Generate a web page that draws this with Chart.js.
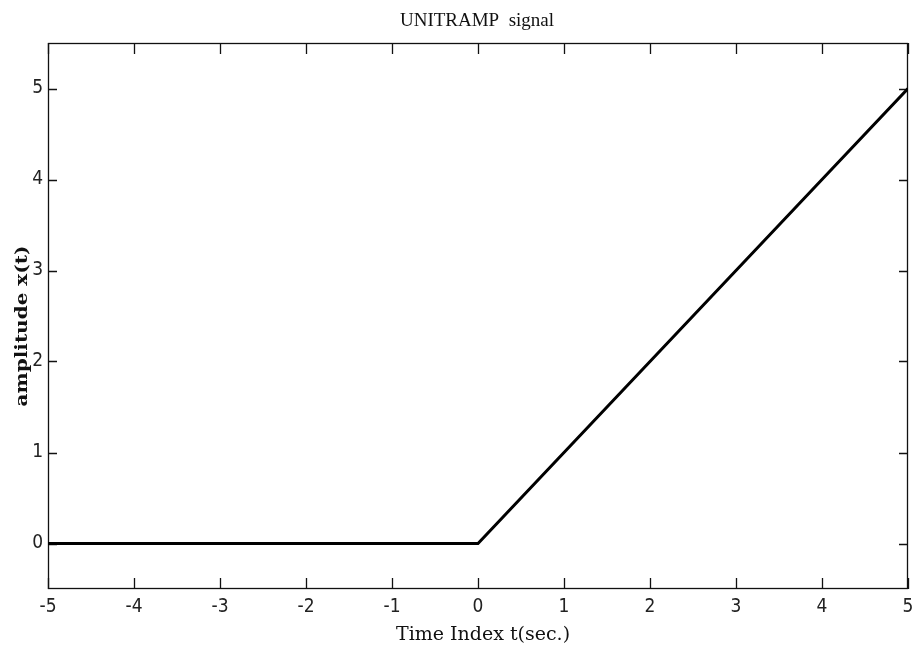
<!DOCTYPE html>
<html>
<head>
<meta charset="utf-8">
<script src="https://cdn.jsdelivr.net/npm/chart.js@4"></script>
<style>
  html, body { margin: 0; padding: 0; background: #ffffff; }
  #wrap { width: 914px; height: 648px; }
</style>
</head>
<body>
<div id="wrap"><canvas id="c" width="914" height="648"></canvas></div>
<script>
// Unit ramp x(t) = t for t >= 0, 0 otherwise, sampled at whole seconds
const timeIndex = [-5, -4, -3, -2, -1, 0, 1, 2, 3, 4, 5];
const amplitude = [0, 0, 0, 0, 0, 0, 1, 2, 3, 4, 5];

const xTicks = [-5, -4, -3, -2, -1, 0, 1, 2, 3, 4, 5];
const yTicks = [0, 1, 2, 3, 4, 5];

const chartTitle = 'UNITRAMP  signal';
const xTitle = 'Time Index t(sec.)';
const yTitle = 'amplitude x(t)';

const tickFont = { family: "'DejaVu Sans Condensed', 'Liberation Sans Narrow', sans-serif", size: 19 };

// Box around the plot with inward tick marks on all four sides
const boxTicks = {
  id: 'boxTicks',
  beforeDatasetsDraw(chart) {
    const { ctx, chartArea: a, scales } = chart;
    ctx.save();
    ctx.strokeStyle = '#111';
    ctx.lineWidth = 1.3;
    ctx.strokeRect(a.left + 0.5, a.top + 0.5, a.right - a.left - 1, a.bottom - a.top - 1);
    ctx.beginPath();
    const xl = 11, yl = 9;
    xTicks.forEach(v => {
      const px = Math.round(scales.x.getPixelForValue(v)) + 0.5;
      ctx.moveTo(px, a.bottom); ctx.lineTo(px, a.bottom - xl);
      ctx.moveTo(px, a.top); ctx.lineTo(px, a.top + xl);
    });
    yTicks.forEach(v => {
      const py = Math.round(scales.y.getPixelForValue(v)) + 0.5;
      ctx.moveTo(a.left, py); ctx.lineTo(a.left + yl, py);
      ctx.moveTo(a.right, py); ctx.lineTo(a.right - yl, py);
    });
    ctx.stroke();
    ctx.restore();
  }
};

// Chart title and axis titles
const titles = {
  id: 'titles',
  afterDraw(chart) {
    const { ctx } = chart;
    ctx.save();
    ctx.fillStyle = '#111';
    ctx.textAlign = 'center';
    ctx.textBaseline = 'alphabetic';
    ctx.font = "19px 'Liberation Serif', 'Times New Roman', serif";
    ctx.fillText(chartTitle, 477, 26);
    ctx.font = "19px 'DejaVu Serif', serif";
    ctx.fillText(xTitle, 483, 640);
    ctx.translate(27, 326);
    ctx.rotate(-Math.PI / 2);
    ctx.scale(1.25, 1);
    ctx.font = "bold 16px 'DejaVu Serif', serif";
    ctx.fillText(yTitle, 0, 0);
    ctx.restore();
  }
};

new Chart(document.getElementById('c'), {
  type: 'line',
  data: {
    datasets: [{
      data: timeIndex.map((t, i) => ({ x: t, y: amplitude[i] })),
      borderColor: '#000000',
      borderWidth: 3,
      pointRadius: 0,
      tension: 0,
      fill: false
    }]
  },
  options: {
    responsive: false,
    animation: false,
    devicePixelRatio: 1,
    layout: { padding: { left: 0, right: 0, top: 43, bottom: 0 } },
    plugins: {
      legend: { display: false },
      tooltip: { enabled: false },
      title: { display: false }
    },
    scales: {
      x: {
        type: 'linear',
        min: -5,
        max: 5,
        afterBuildTicks: s => { s.ticks = xTicks.map(v => ({ value: v })); },
        afterFit: s => { s.height = 59; s.paddingRight = 6; },
        border: { display: false },
        grid: { display: false, drawTicks: false },
        ticks: { font: tickFont, color: '#222', padding: 7, maxRotation: 0 }
      },
      y: {
        type: 'linear',
        min: -0.5,
        max: 5.5,
        afterBuildTicks: s => { s.ticks = yTicks.map(v => ({ value: v })); },
        afterFit: s => { s.width = 48; },
        border: { display: false },
        grid: { display: false, drawTicks: false },
        ticks: { font: tickFont, color: '#222', padding: 5 }
      }
    }
  },
  plugins: [boxTicks, titles]
});
</script>
</body>
</html>
